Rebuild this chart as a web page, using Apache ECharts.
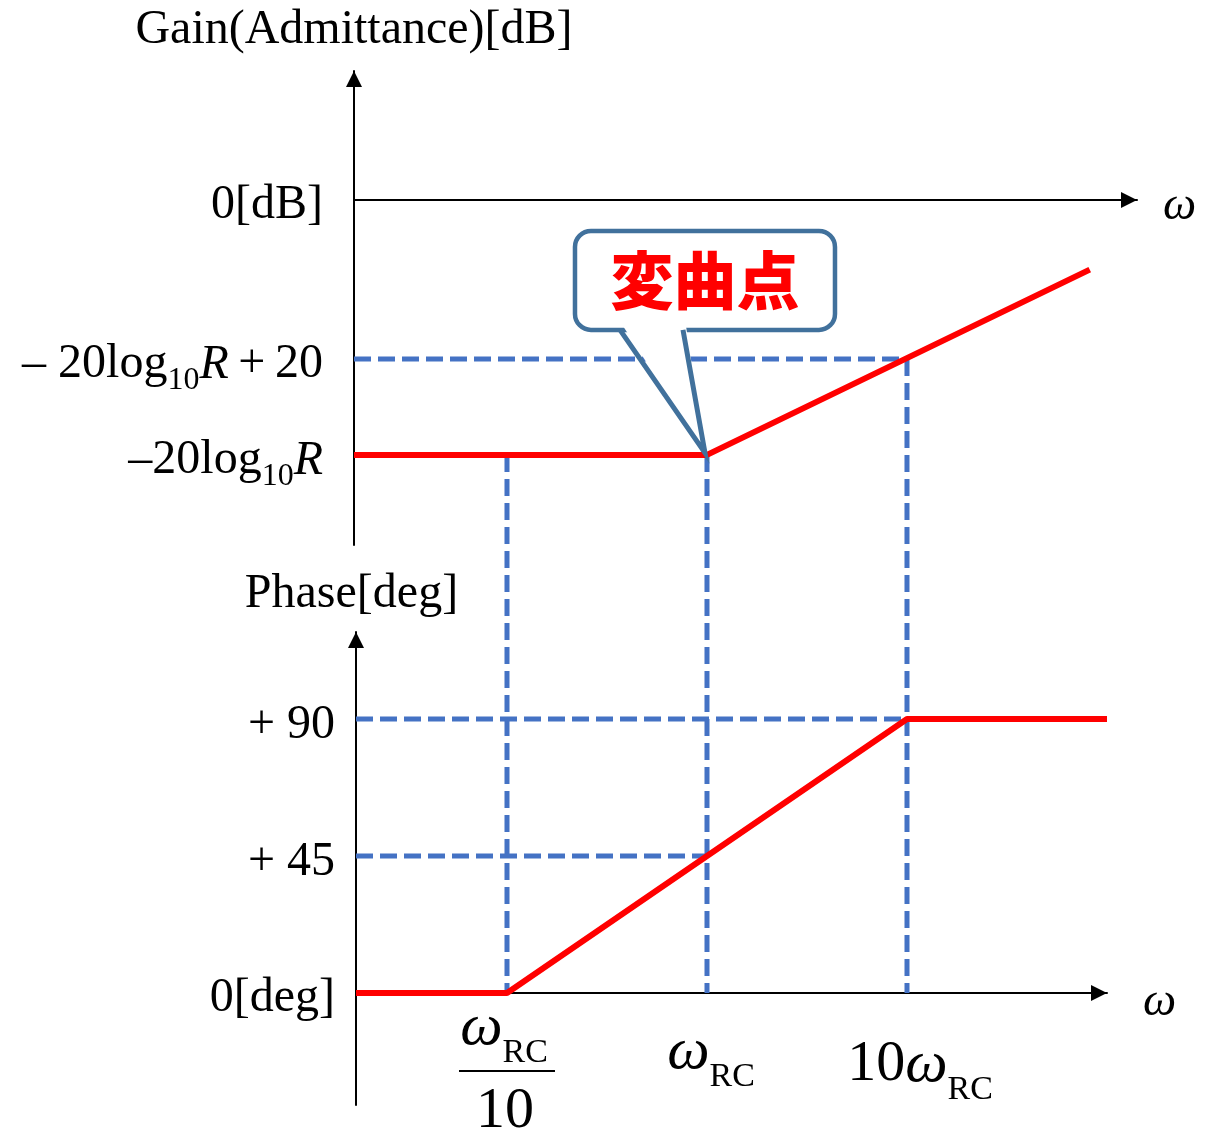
<!DOCTYPE html>
<html>
<head>
<meta charset="utf-8">
<title>Bode plot of admittance</title>
<script src="https://cdn.jsdelivr.net/npm/echarts@6/dist/echarts.min.js"></script>
<style>
  html, body { margin: 0; padding: 0; background: #ffffff; }
  #chart { width: 1213px; height: 1135px; }
</style>
</head>
<body>
<div id="chart"></div>
<script>
// ---- data (frequency in units of ω_RC) ----
// gain asymptote [dB]: flat at -20log10R, then +20 dB/dec above ω_RC
const gainOmega = [0.01718, 1, 82];
const gainDb = [-53.1, -53.1, -14.5];
// phase asymptote [deg]: 0 below ω_RC/10, +90 above 10ω_RC
const phaseOmega = [0.01758, 0.1, 10, 100];
const phaseDeg = [0, 0, 90, 90];

// corner frequencies and the gain level each guide line starts from
const cornerOmega = [0.1, 1, 10];
const cornerGain = [-53.1, -53.1, -33.1];
// horizontal guide lines: [level, end frequency]
const gainGuides = [[-33.1, 10]];
const phaseGuides = [[90, 10], [45, 1]];

// axis extents
const gainOmegaRange = [0.01718, 141.3];
const phaseOmegaRange = [0.01758, 100];
const gainRange = [-71.875, 26.875];
const phaseRange = [-36.8, 118.6];

// tick labels
const gainTicks = [0, -33.1, -53.1];
const gainTickLabels = ['{z|0[dB]}', '{t|– 20log}{s|10}{i|R}{t|\u2009+\u200920}', '{t|–20log}{s|10}{i|R}'];
const phaseTicks = [0, 45, 90];
const phaseTickLabels = ['{z|0[deg]}', '{t|+ 45}', '{t|+ 90}'];
const omegaTickLabels = ['{w|ω}{s|RC}', '{w|ω}{s|RC}', '{n|10}{w|ω}{s|RC}'];
const inflectionText = '変曲点';

const SERIF = '"Liberation Serif", "Times New Roman", serif';
const RED = '#ff0000';
const BLUE = '#4472c4';
const EDGE = '#41719c';
const DASH = [17, 7];

const chart = echarts.init(document.getElementById('chart'), null, { renderer: 'canvas' });

function axisLine() {
  return {
    onZero: false,
    lineStyle: { color: '#000', width: 2 },
    symbol: ['none', 'triangle'],
    symbolSize: [16, 16],
    symbolOffset: [0, -8]
  };
}

const tickRich = {
  z: { fontFamily: SERIF, fontSize: 48, color: '#000', padding: [10, 0, 0, 0] },
  t: { fontFamily: SERIF, fontSize: 48, color: '#000', padding: [12, 0, 0, 0] },
  i: { fontFamily: SERIF, fontSize: 48, fontStyle: 'italic', color: '#000', padding: [12, 0, 0, 0] },
  s: { fontFamily: SERIF, fontSize: 32, color: '#000', padding: [44, 0, 0, 0] }
};

function xAxisOf(grid, range, nameGap, drop) {
  return {
    type: 'log', logBase: 10, gridIndex: grid, min: range[0], max: range[1],
    axisLine: Object.assign(axisLine(), { onZero: true }),
    axisTick: { show: false }, axisLabel: { show: false }, splitLine: { show: false },
    name: '{w|ω}', nameLocation: 'end', nameGap: nameGap,
    nameTextStyle: {
      rich: { w: { fontFamily: SERIF, fontStyle: 'italic', fontSize: 47, color: '#000', padding: [drop, 0, 0, 0] } }
    }
  };
}

function yAxisOf(grid, range, ticks, labels, margin, name, nameGap, namePad) {
  return {
    type: 'value', gridIndex: grid, min: range[0], max: range[1],
    axisLine: axisLine(),
    axisTick: { show: false }, splitLine: { show: false },
    axisLabel: {
      customValues: ticks, margin: margin,
      fontFamily: SERIF, fontSize: 48, color: '#000',
      formatter: v => labels[ticks.indexOf(v)] || '',
      rich: tickRich
    },
    name: name, nameLocation: 'end', nameGap: nameGap,
    nameTextStyle: { fontFamily: SERIF, fontSize: 48, color: '#000', padding: namePad }
  };
}

function lineSeries(grid, data, color, dashed, z) {
  return {
    type: 'line', xAxisIndex: grid, yAxisIndex: grid, data: data,
    symbol: 'none', silent: true, clip: false, z: z,
    lineStyle: { color: color, width: dashed ? 5 : 6, type: dashed ? DASH : 'solid', cap: 'butt' }
  };
}

const series = [];
gainGuides.forEach(g => series.push(lineSeries(0, [[gainOmegaRange[0], g[0]], [g[1], g[0]]], BLUE, true, 2)));
phaseGuides.forEach(g => series.push(lineSeries(1, [[phaseOmegaRange[0], g[0]], [g[1], g[0]]], BLUE, true, 2)));
series.push(lineSeries(0, gainOmega.map((w, i) => [w, gainDb[i]]), RED, false, 4));
series.push(lineSeries(1, phaseOmega.map((w, i) => [w, phaseDeg[i]]), RED, false, 4));

chart.setOption({
  animation: false,
  backgroundColor: '#ffffff',
  grid: [
    { left: 354, right: 76, top: 71, bottom: 590 },
    { left: 356, right: 106, top: 632, bottom: 30 }
  ],
  xAxis: [xAxisOf(0, gainOmegaRange, 26, 14), xAxisOf(1, phaseOmegaRange, 36, 20)],
  yAxis: [
    yAxisOf(0, gainRange, gainTicks, gainTickLabels, 31, 'Gain(Admittance)[dB]', 17, 0),
    yAxisOf(1, phaseRange, phaseTicks, phaseTickLabels, 21, 'Phase[deg]', 14, [0, 9, 0, 0])
  ],
  series: series
});

// ---- overlays placed through the axes' own scales ----
const toPx = (grid, x, y) => chart.convertToPixel({ xAxisIndex: grid, yAxisIndex: grid }, [x, y]);
const graphics = [];

// vertical guides from the gain plot down to the phase axis
cornerOmega.forEach((w, i) => {
  const a = toPx(0, w, cornerGain[i]);
  const b = toPx(1, w, 0);
  graphics.push({
    type: 'line', z: 1, silent: true,
    shape: { x1: a[0], y1: a[1], x2: b[0], y2: b[1] },
    style: { stroke: BLUE, lineWidth: 5, lineDash: DASH }
  });
});

// frequency labels under the phase axis
const labelRich = {
  w: { fontFamily: SERIF, fontSize: 60, fontStyle: 'italic', fill: '#000' },
  n: { fontFamily: SERIF, fontSize: 58, fill: '#000' },
  s: { fontFamily: SERIF, fontSize: 34, fill: '#000', padding: [50, 0, 0, 0] }
};
const labelOffset = [[-3, 35], [4, 59], [13, 72]];
cornerOmega.forEach((w, i) => {
  const p = toPx(1, w, 0);
  graphics.push({
    type: 'text', z: 5, silent: true,
    x: p[0] + labelOffset[i][0], y: p[1] + labelOffset[i][1],
    style: { text: omegaTickLabels[i], rich: labelRich, align: 'center', verticalAlign: 'middle' }
  });
  if (i === 0) {
    graphics.push({
      type: 'line', z: 5, silent: true,
      shape: { x1: p[0] - 48, y1: p[1] + 78, x2: p[0] + 48, y2: p[1] + 78 },
      style: { stroke: '#000', lineWidth: 2 }
    });
    graphics.push({
      type: 'text', z: 5, silent: true, x: p[0] - 2, y: p[1] + 119,
      style: { text: '{n|10}', rich: labelRich, align: 'center', verticalAlign: 'middle' }
    });
  }
});

// callout marking the corner of the gain curve
const tip = toPx(0, gainOmega[1], gainDb[1]);
const boxTop = tip[1] - 224, boxH = 99, boxL = tip[0] - 132, boxW = 260;
const baseY = boxTop + boxH;
graphics.push(
  {
    type: 'rect', z: 10, silent: true,
    shape: { x: boxL, y: boxTop, width: boxW, height: boxH, r: 16 },
    style: { fill: '#ffffff', stroke: EDGE, lineWidth: 4.5 }
  },
  {
    type: 'polygon', z: 11, silent: true,
    shape: { points: [[tip[0] - 84, baseY - 4], [tip[0] - 21, baseY - 4], [tip[0] - 2, tip[1] - 2]] },
    style: { fill: '#ffffff' }
  },
  {
    type: 'polyline', z: 12, silent: true,
    shape: { points: [[tip[0] - 87, baseY], [tip[0] - 2, tip[1] - 2], [tip[0] - 24, baseY]] },
    style: { stroke: EDGE, lineWidth: 5, fill: null, lineJoin: 'miter' }
  },
  {
    type: 'text', z: 13, silent: true,
    x: tip[0] - 2, y: boxTop + boxH / 2,
    style: {
      text: inflectionText, fill: RED, align: 'center', verticalAlign: 'middle',
      fontFamily: '"Noto Sans CJK JP", sans-serif', fontWeight: 900, fontSize: 63
    }
  }
);

chart.setOption({ graphic: graphics });
</script>
</body>
</html>
